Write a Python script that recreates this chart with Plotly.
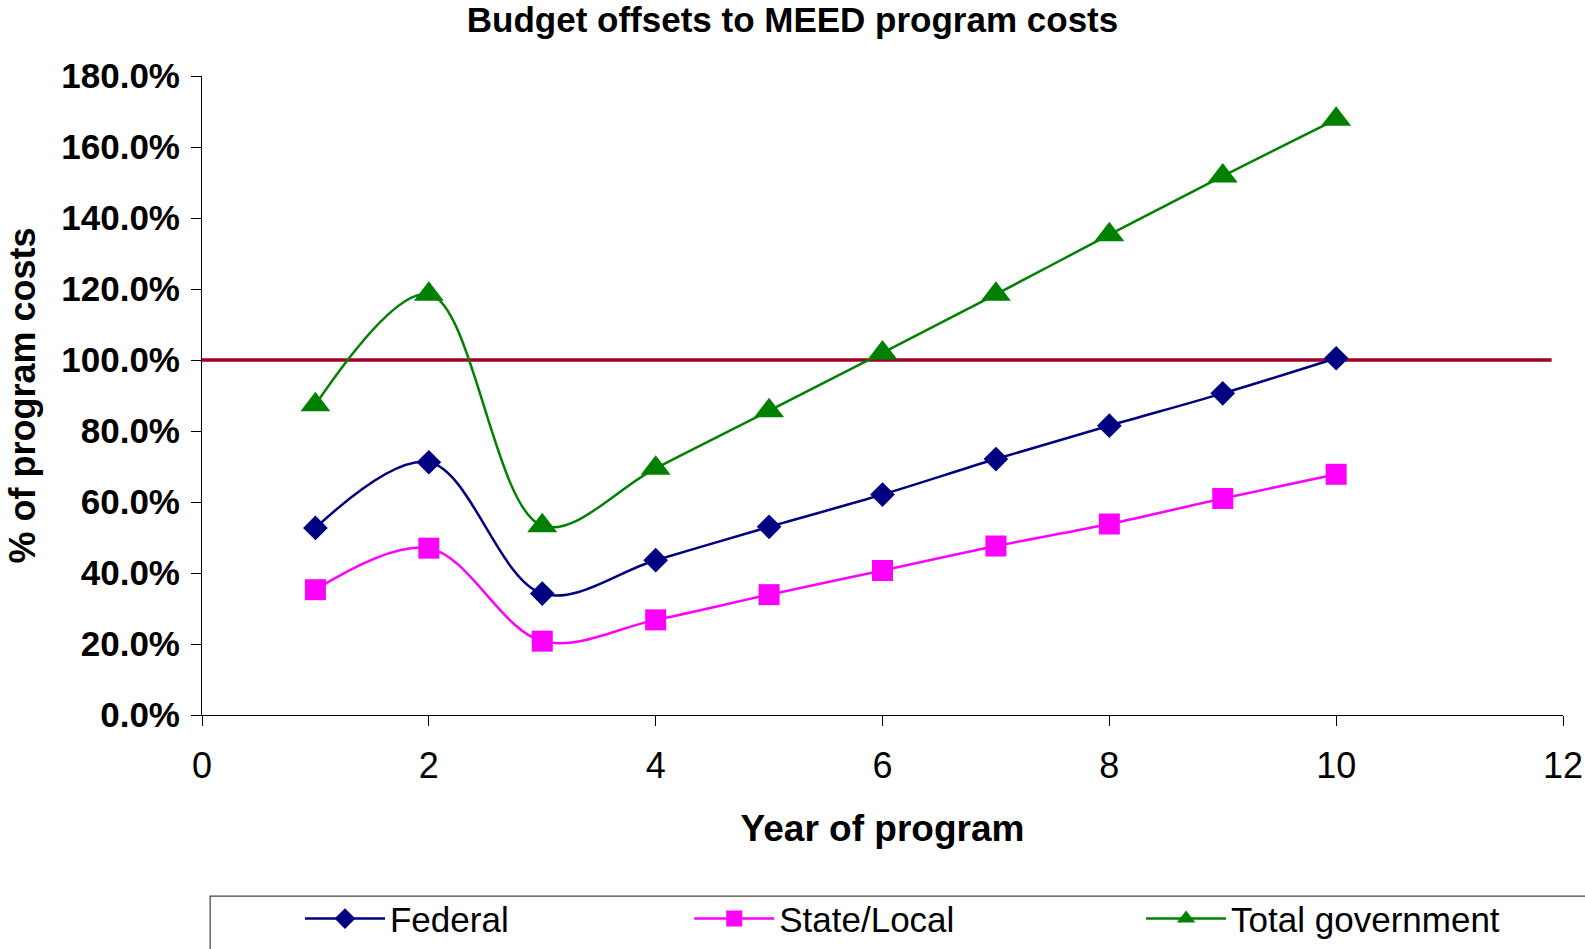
import plotly.graph_objects as go

# year of program and the three offset series (percent of program costs)
years = [1, 2, 3, 4, 5, 6, 7, 8, 9, 10]
federal = [52.7, 71.2, 34.2, 43.6, 53.0, 62.1, 72.1, 81.5, 90.6, 100.5]
state_local = [35.3, 47.0, 20.8, 26.8, 33.9, 40.7, 47.6, 53.8, 61.0, 67.8]
total_gov = [87.4, 118.5, 53.3, 69.5, 85.7, 102.0, 118.5, 135.3, 151.8, 167.8]

# break-even reference line
breakeven_x = [0, 11.9]
breakeven_y = [100, 100]

y_ticks = [0, 20, 40, 60, 80, 100, 120, 140, 160, 180]
y_labels = [f"{v:.1f}%" for v in y_ticks]
x_ticks = [0, 2, 4, 6, 8, 10, 12]

FONT = "Liberation Sans, Arial, sans-serif"

fig = go.Figure()

fig.add_trace(go.Scatter(
    x=breakeven_x, y=breakeven_y, mode="lines",
    line=dict(color="#A00028", width=3.5),
    showlegend=False, hoverinfo="skip"))

# Federal
fig.add_trace(go.Scatter(
    x=years, y=federal, name="Federal", mode="lines+markers",
    line=dict(color="#000080", width=2.5, shape="spline", smoothing=1),
    marker=dict(symbol="diamond", size=19, color="#000080"),
    legend="legend"))
# State/Local
fig.add_trace(go.Scatter(
    x=years, y=state_local, name="State/Local", mode="lines+markers",
    line=dict(color="#FF00FF", width=2.5, shape="spline", smoothing=1),
    marker=dict(symbol="square", size=21, color="#FF00FF"),
    legend="legend2"))
# Total government
fig.add_trace(go.Scatter(
    x=years, y=total_gov, name="Total government", mode="lines+markers",
    line=dict(color="#008000", width=2.5, shape="spline", smoothing=1),
    marker=dict(symbol="triangle-up", size=26, color="#008000"),
    legend="legend3"))

legend_common = dict(
    orientation="h", yanchor="middle", y=-0.319, xanchor="left",
    bgcolor="rgba(0,0,0,0)", borderwidth=0, itemwidth=80,
    font=dict(family=FONT, size=35, color="#000000"))

fig.update_layout(
    width=1585, height=949,
    paper_bgcolor="white", plot_bgcolor="white",
    margin=dict(l=202, r=22, t=76, b=234, autoexpand=False),
    title=dict(text="<b>Budget offsets to MEED program costs</b>",
               x=0.5, xref="container", xanchor="center",
               y=0.979, yref="container", yanchor="middle",
               font=dict(family=FONT, size=35, color="#000000")),
    legend=dict(x=0.072, **legend_common),
    legend2=dict(x=0.358, **legend_common),
    legend3=dict(x=0.690, **legend_common),
    shapes=[dict(type="rect", xref="paper", yref="paper",
                 x0=0.006, x1=1.1, y0=-0.5, y1=-0.2833,
                 line=dict(color="#444444", width=1.2),
                 fillcolor="rgba(0,0,0,0)")],
)

fig.update_xaxes(
    title=dict(text="<b>Year of program</b>", standoff=29,
               font=dict(family=FONT, size=37, color="#000000")),
    range=[0, 12], tickvals=x_ticks, ticks="outside", ticklen=10,
    tickcolor="#000000", showline=True, linecolor="#000000", linewidth=1,
    showgrid=False, zeroline=False, ticklabelstandoff=9,
    tickfont=dict(family=FONT, size=36, color="#000000"))

fig.update_yaxes(
    title=dict(text="<b>% of program costs</b>", standoff=14,
               font=dict(family=FONT, size=36, color="#000000")),
    range=[0, 180], tickvals=y_ticks, ticktext=y_labels,
    ticks="outside", ticklen=10, tickcolor="#000000",
    showline=True, linecolor="#000000", linewidth=1,
    showgrid=False, zeroline=False, ticklabelstandoff=4,
    tickfont=dict(family=FONT, size=35, color="#000000", weight="bold"))

# drop the browser's default body margin so the figure sits at the page corner
fig.write_html("out.html", config={"displayModeBar": False},
               post_script="document.body.style.margin='0px';")
